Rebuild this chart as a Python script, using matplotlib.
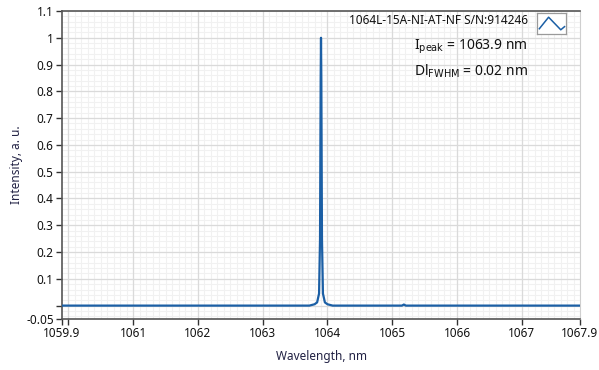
import numpy as np
import matplotlib.pyplot as plt
from matplotlib.lines import Line2D

# spectrum (nm, a.u.)
wavelength = [1059.9, 1063.72, 1063.80, 1063.84, 1063.87, 1063.885, 1063.895, 1063.90,
              1063.905, 1063.915, 1063.93, 1063.96, 1064.00, 1064.08,
              1065.15, 1065.18, 1065.21, 1067.9]
intensity = [0.0, 0.0, 0.005, 0.012, 0.045, 0.25, 0.85, 1.0,
             0.85, 0.25, 0.045, 0.012, 0.005, 0.0,
             0.0, 0.004, 0.0, 0.0]

xticks = [1059.9, 1060, 1061, 1062, 1063, 1064, 1065, 1066, 1067, 1067.9]
xlabels = ["1059.9", "", "1061", "1062", "1063", "1064", "1065", "1066", "1067", "1067.9"]
yticks = [-0.05, 0, 0.1, 0.2, 0.3, 0.4, 0.5, 0.6, 0.7, 0.8, 0.9, 1, 1.1]
ylabels = ["-0.05", "", "0.1", "0.2", "0.3", "0.4", "0.5", "0.6", "0.7", "0.8", "0.9", "1", "1.1"]

legend_name = "1064L-15A-NI-AT-NF S/N:914246"
peak_text = "I$_{\\rm peak}$ = 1063.9 nm"
fwhm_text = "Dl$_{\\rm FWHM}$ = 0.02 nm"

plt.rcParams['font.family'] = ['Noto Sans', 'DejaVu Sans']
plt.rcParams['mathtext.default'] = 'regular'

fig = plt.figure(figsize=(5.99, 3.70), dpi=100)
ax = fig.add_axes([62/599, 1-319/370, (580-62)/599, (319-11)/370])

line_col = '#1b5fa5'
ax.plot(wavelength, intensity, color=line_col, lw=1.6, zorder=3)

ax.set_xlim(1059.9, 1067.9)
ax.set_ylim(-0.05, 1.1)

# minor grid
for x in np.arange(1060.0, 1067.9, 0.1):
    ax.axvline(x, color='#f1f1f1', lw=0.8, zorder=0)
for y in np.arange(-0.04, 1.1, 0.02):
    ax.axhline(y, color='#f1f1f1', lw=0.8, zorder=0)
# major grid
for x in xticks[1:-1]:
    ax.axvline(x, color='#dadada', lw=0.9, zorder=1)
for y in yticks[1:-1]:
    ax.axhline(y, color='#dadada', lw=0.9, zorder=1)

ax.set_xticks(xticks)
ax.set_xticklabels(xlabels)
ax.set_yticks(yticks)
ax.set_yticklabels(ylabels)
ax.tick_params(axis='both', direction='out', length=4, width=1, color='#333333',
               labelsize=8.5, labelcolor='#111111', pad=2)

for s in ['left', 'bottom', 'top']:
    ax.spines[s].set_color('#555555')
    ax.spines[s].set_linewidth(1.2)
ax.spines['right'].set_color('#cfcfcf')

ax.set_xlabel("Wavelength, nm", fontsize=8.5, color='#222244', labelpad=7)
ax.set_ylabel("Intensity, a. u.", fontsize=8.5, color='#222244', labelpad=2)

# legend entry
fig.text(528/599, 1-21/370, legend_name, fontsize=8.5, ha='right', va='center', color='#111111')
bx = fig.add_axes([537/599, 1-34/370, 29/599, 21/370])
bx.set_xlim(0, 1)
bx.set_ylim(0, 1)
bx.add_line(Line2D([0.08, 0.4, 0.82, 0.95], [0.25, 0.8, 0.2, 0.35], color=line_col, lw=1.1))
bx.set_xticks([])
bx.set_yticks([])
for s in bx.spines.values():
    s.set_color('#9a9a9a')
    s.set_linewidth(0.9)

fig.text(528/599, 1-47/370, peak_text, fontsize=10, ha='right', va='center', color='#111111')
fig.text(528/599, 1-71/370, fwhm_text, fontsize=10, ha='right', va='center', color='#111111')

fig.savefig("out.png", dpi=100)
